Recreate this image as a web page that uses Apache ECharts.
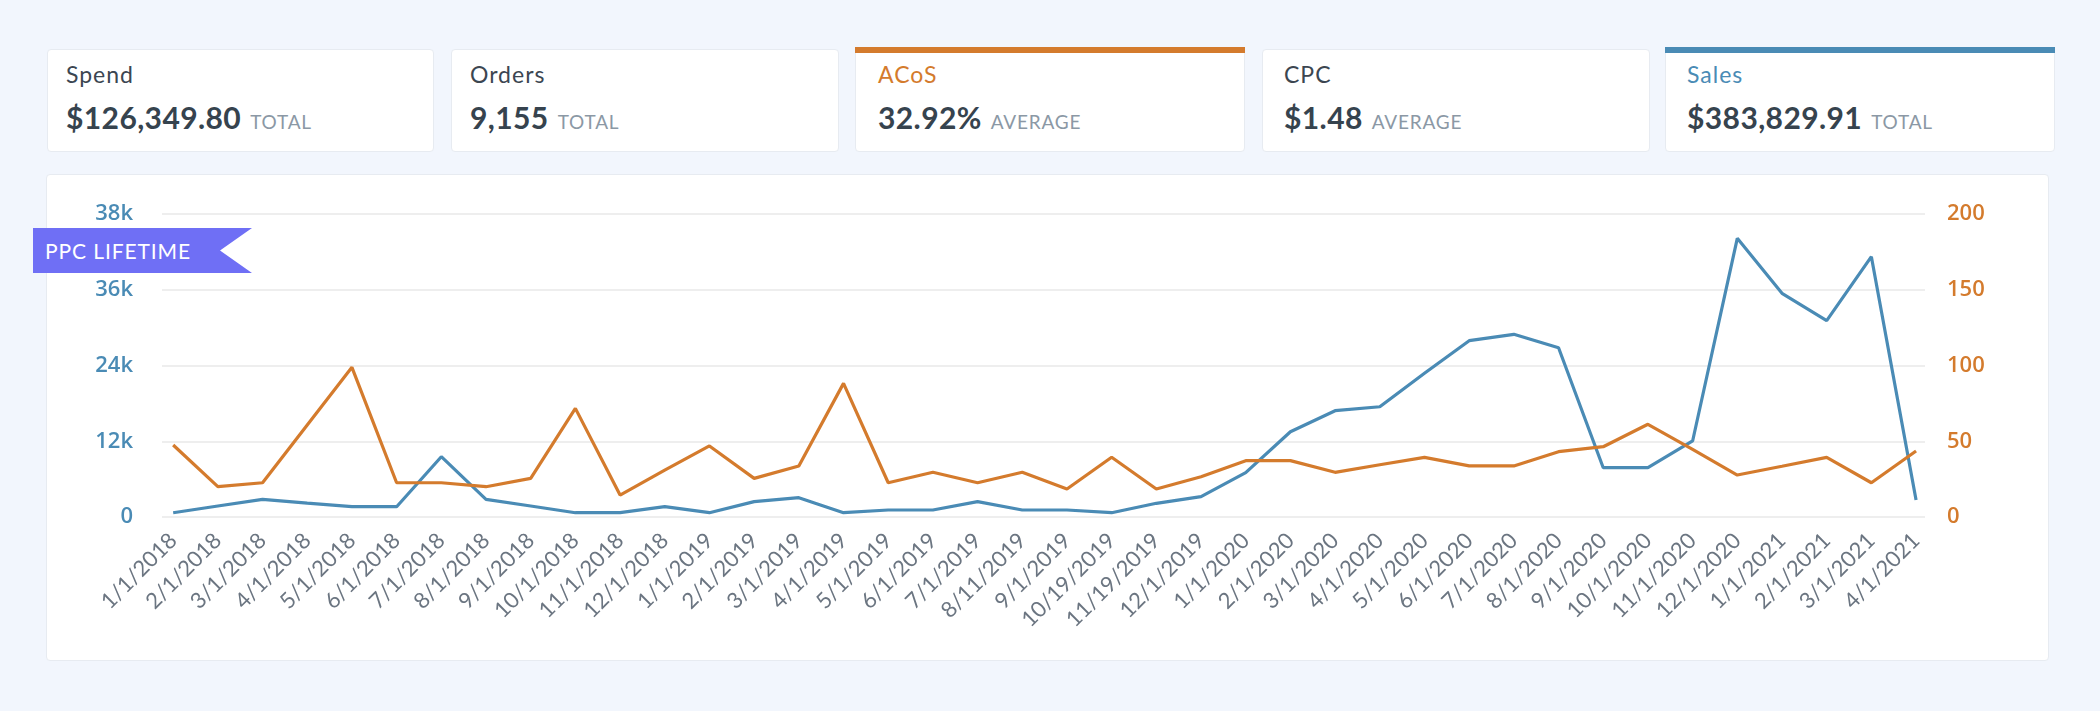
<!DOCTYPE html>
<html>
<head>
<meta charset="utf-8">
<script src="https://cdn.jsdelivr.net/npm/echarts@6/dist/echarts.min.js"></script>
<style>
  html, body { margin:0; padding:0; width:2100px; height:711px; background:#f2f6fd; overflow:hidden; font-family: Lato, "Open Sans", sans-serif; }
  .card { position:absolute; top:49px; height:103px; background:#fff; border:1px solid #e7ebf1; border-radius:4px; box-sizing:border-box; z-index:1; }
  .bar { position:absolute; top:47px; height:6px; z-index:2; }
  .lbl { position:absolute; left:18px; top:13px; font-size:23px; line-height:23px; letter-spacing:1px; color:#3c4651; white-space:nowrap; }
  .val { position:absolute; left:18px; top:52px; font-size:30px; line-height:30px; font-weight:bold; color:#36434e; white-space:nowrap; letter-spacing:0.4px; }
  .val span { font-size:19px; font-weight:normal; color:#8b98a5; letter-spacing:0.8px; margin-left:9px; }
  #panel { position:absolute; left:46px; top:174px; width:2003px; height:487px; background:#fff; border:1px solid #e7ebf1; border-radius:4px; box-sizing:border-box; z-index:1; }
  #chart { position:absolute; left:0; top:0; width:2100px; height:711px; z-index:2; }
  #badge { position:absolute; left:33px; top:228px; width:219px; height:45px; background:#6f6ff5; z-index:3;
           clip-path: polygon(0 0, 100% 0, 85.4% 50%, 100% 100%, 0 100%); color:#fff; font-size:21px; line-height:45px; padding-left:12px; box-sizing:border-box; letter-spacing:0.9px; }
</style>
</head>
<body>
<div class="card" style="left:47px;width:387px;"><div class="lbl">Spend</div><div class="val">$126,349.80<span>TOTAL</span></div></div>
<div class="card" style="left:451px;width:388px;"><div class="lbl">Orders</div><div class="val">9,155<span>TOTAL</span></div></div>
<div class="card" style="left:855px;width:390px;"><div class="lbl" style="color:#d47b2d;left:22px;">ACoS</div><div class="val" style="left:22px;">32.92%<span>AVERAGE</span></div></div>
<div class="bar" style="left:855px;width:390px;background:#d47b2d;"></div>
<div class="card" style="left:1262px;width:388px;"><div class="lbl" style="left:21px;">CPC</div><div class="val" style="left:21px;">$1.48<span>AVERAGE</span></div></div>
<div class="card" style="left:1665px;width:390px;"><div class="lbl" style="color:#4a8bb5;left:21px;">Sales</div><div class="val" style="left:21px;">$383,829.91<span>TOTAL</span></div></div>
<div class="bar" style="left:1665px;width:390px;background:#4a8bb5;"></div>
<div id="panel"></div>
<div id="chart"></div>
<div id="badge">PPC LIFETIME</div>
<script>
const categories = [
  '1/1/2018','2/1/2018','3/1/2018','4/1/2018','5/1/2018','6/1/2018','7/1/2018','8/1/2018','9/1/2018','10/1/2018','11/1/2018','12/1/2018',
  '1/1/2019','2/1/2019','3/1/2019','4/1/2019','5/1/2019','6/1/2019','7/1/2019','8/11/2019','9/1/2019','10/19/2019','11/19/2019','12/1/2019',
  '1/1/2020','2/1/2020','3/1/2020','4/1/2020','5/1/2020','6/1/2020','7/1/2020','8/1/2020','9/1/2020','10/1/2020','11/1/2020','12/1/2020',
  '1/1/2021','2/1/2021','3/1/2021','4/1/2021'
];
const sales = [
  680, 1740, 2800, 2200, 1630, 1630, 9550, 2800, 1740, 680, 680, 1630,
  680, 2430, 3060, 680, 1110, 1110, 2430, 1110, 1110, 680, 2170, 3220,
  7020, 13510, 16840, 17470, 22760, 27930, 28940, 26820, 7810, 7810, 12040, 44150,
  35430, 31100, 41240, 2690
];
const acos = [
  47.5, 20, 22.6, 60.7, 98.8, 22.6, 22.6, 20, 25.5, 71.7, 14.5, 31,
  46.9, 25.5, 33.7, 88.2, 22.6, 29.5, 22.6, 29.5, 18.5, 39.4, 18.5, 26.6,
  37.2, 37.2, 29.5, 34.5, 39.4, 33.7, 33.7, 43.1, 46.4, 61.2, 44.7, 27.7,
  33.5, 39.4, 22.6, 43.6
];
const leftTickLabels = ['0', '12k', '24k', '36k', '38k'];
const rightTickLabels = ['0', '50', '100', '150', '200'];

const BLUE = '#4a8bb5', ORANGE = '#d47b2d';
const idx = categories.map((c, i) => i);
const chart = echarts.init(document.getElementById('chart'), null, { renderer: 'canvas' });
chart.setOption({
  animation: false,
  backgroundColor: 'transparent',
  grid: { left: 162, right: 175, top: 214, bottom: 194, containLabel: false },
  xAxis: {
    type: 'value', min: -0.25, max: 39.2,
    axisLine: { show: false }, axisTick: { show: false }, splitLine: { show: false },
    axisLabel: {
      customValues: idx, rotate: 45, margin: 20, color: '#6b7581', fontSize: 22,
      fontFamily: 'Lato, "Open Sans", sans-serif',
      formatter: v => categories[Math.round(v)]
    }
  },
  yAxis: [
    {
      type: 'value', min: 0, max: 48000, interval: 12000, position: 'left',
      axisLine: { show: false }, axisTick: { show: false },
      splitLine: { lineStyle: { color: '#eeeeee', width: 2 } },
      axisLabel: { margin: 29, color: BLUE, fontSize: 22, fontWeight: 600, fontFamily: '"Open Sans", Lato, sans-serif',
        formatter: v => leftTickLabels[Math.round(v / 12000)] }
    },
    {
      type: 'value', min: 0, max: 200, interval: 50, position: 'right',
      axisLine: { show: false }, axisTick: { show: false }, splitLine: { show: false },
      axisLabel: { margin: 22, color: ORANGE, fontSize: 22, fontWeight: 600, fontFamily: '"Open Sans", Lato, sans-serif',
        formatter: v => rightTickLabels[Math.round(v / 50)] }
    }
  ],
  series: [
    { name: 'Sales', type: 'line', yAxisIndex: 0, data: sales.map((v, i) => [i, v]),
      showSymbol: false, lineStyle: { color: BLUE, width: 3.2 }, itemStyle: { color: BLUE } },
    { name: 'ACoS', type: 'line', yAxisIndex: 1, data: acos.map((v, i) => [i, v]),
      showSymbol: false, lineStyle: { color: ORANGE, width: 3.2 }, itemStyle: { color: ORANGE } }
  ]
});
</script>
</body>
</html>
